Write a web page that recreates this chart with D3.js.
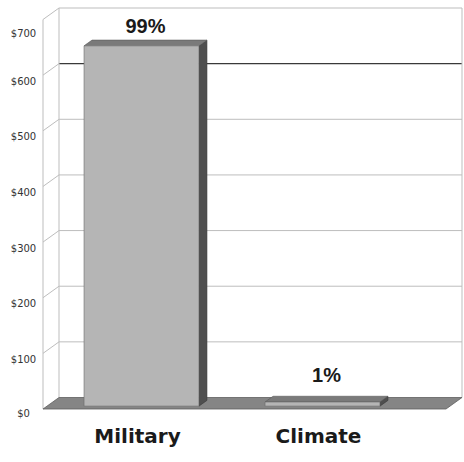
<!DOCTYPE html>
<html>
<head>
<meta charset="utf-8">
<script src="https://cdn.jsdelivr.net/npm/d3@7"></script>
<style>
  html, body { margin: 0; padding: 0; background: #fff; }
  svg { display: block; }
</style>
</head>
<body>
<svg id="chart" width="464" height="462"></svg>
<script>
// Spending by category, billions of dollars
const categories = ["Military", "Climate"];
const spending = [647.5, 7.4];
const yTicks = [0, 100, 200, 300, 400, 500, 600, 700];
const yTickLabels = ["$0", "$100", "$200", "$300", "$400", "$500", "$600", "$700"];
const emphasisTick = 600;

const svg = d3.select("#chart");

// 3-D box: front plane plus a depth offset for the back wall
const DX = 16, DY = 11.5;
const floorLeft = 43, floorRight = 446;
const barZ0 = 0.25, barZ1 = 0.75;

const y = d3.scaleLinear().domain([0, 700]).range([409, 19.5]);
const x = d3.scaleBand().domain(categories).range([47, 409])
  .paddingInner(0.365).paddingOuter(0.1825);

const P = (px, v, z) => [px + z * DX, y(v) - z * DY];
const poly = pts => pts.map(p => p.join(",")).join(" ");

// walls
svg.append("polygon")
  .attr("points", poly([P(floorRight, 0, 1), P(floorRight, 700, 1), P(floorLeft, 700, 1), P(floorLeft, 0, 1)]))
  .attr("fill", "#fff");
svg.append("polygon")
  .attr("points", poly([P(floorLeft, 0, 0), P(floorLeft, 700, 0), P(floorLeft, 700, 1), P(floorLeft, 0, 1)]))
  .attr("fill", "#fff");

// gridlines: back wall and side wall
const grid = svg.append("g");
yTicks.filter(t => t > 0).forEach(t => {
  const a = P(floorLeft, t, 0), b = P(floorLeft, t, 1), c = P(floorRight, t, 1);
  grid.append("line")
    .attr("x1", a[0]).attr("y1", a[1]).attr("x2", b[0]).attr("y2", b[1])
    .attr("stroke", "#bdbdbd").attr("stroke-width", 1);
  grid.append("line")
    .attr("x1", b[0]).attr("y1", b[1]).attr("x2", c[0]).attr("y2", c[1])
    .attr("stroke", t === emphasisTick ? "#3a3a3a" : "#bdbdbd")
    .attr("stroke-width", t === emphasisTick ? 1.3 : 1);
});

// wall edges
const edges = [
  [P(floorLeft, 0, 0), P(floorLeft, 700, 0)],
  [P(floorLeft, 0, 1), P(floorLeft, 700, 1)],
  [P(floorRight, 0, 1), P(floorRight, 700, 1)]
];
edges.forEach(([a, b]) => {
  grid.append("line")
    .attr("x1", a[0]).attr("y1", a[1]).attr("x2", b[0]).attr("y2", b[1])
    .attr("stroke", "#bdbdbd").attr("stroke-width", 1);
});

// floor
svg.append("polygon")
  .attr("points", poly([P(floorLeft, 0, 0), P(floorRight, 0, 0), P(floorRight, 0, 1), P(floorLeft, 0, 1)]))
  .attr("fill", "#858585").attr("stroke", "#5e5e5e").attr("stroke-width", 0.8)
  .attr("stroke-linejoin", "round");

// bars
const bars = svg.append("g");
categories.forEach((cat, i) => {
  const v = spending[i];
  const x0 = x(cat), x1 = x(cat) + x.bandwidth();
  const g = bars.append("g");
  // side
  g.append("polygon")
    .attr("points", poly([P(x1, 0, barZ0), P(x1, v, barZ0), P(x1, v, barZ1), P(x1, 0, barZ1)]))
    .attr("fill", "#4f4f4f").attr("stroke", "#3c3c3c").attr("stroke-width", 0.6);
  // top
  g.append("polygon")
    .attr("points", poly([P(x0, v, barZ0), P(x1, v, barZ0), P(x1, v, barZ1), P(x0, v, barZ1)]))
    .attr("fill", "#7a7a7a").attr("stroke", "#5a5a5a").attr("stroke-width", 0.6);
  // front
  g.append("polygon")
    .attr("points", poly([P(x0, 0, barZ0), P(x1, 0, barZ0), P(x1, v, barZ0), P(x0, v, barZ0)]))
    .attr("fill", "#b5b5b5").attr("stroke", "#6a6a6a").attr("stroke-width", 0.6);
});

// share labels above the bars, kept inside the box
const total = d3.sum(spending);
categories.forEach((cat, i) => {
  const v = spending[i];
  const top = P(x(cat) + x.bandwidth() / 2, v, barZ1);
  const ly = Math.max(top[1] - 14, y(700) + 13.5);
  svg.append("text")
    .attr("x", x(cat) + x.bandwidth() / 2 + DX * 0.5)
    .attr("y", ly)
    .attr("text-anchor", "middle")
    .attr("font-family", "Liberation Sans, Arial, sans-serif")
    .attr("font-weight", "bold")
    .attr("font-size", 20)
    .attr("fill", "#1a1a1a")
    .text(Math.round(v / total * 100) + "%");
});

// value axis labels
yTicks.forEach((t, i) => {
  const cy = Math.min(Math.max(y(t) + 6, y(700) + 14), y(0) + 4);
  svg.append("text")
    .attr("x", 23.5)
    .attr("y", cy)
    .attr("dy", "0.35em")
    .attr("text-anchor", "middle")
    .attr("font-family", "DejaVu Sans, sans-serif")
    .attr("font-size", 10)
    .attr("fill", "#333")
    .text(yTickLabels[i]);
});

// category labels
categories.forEach(cat => {
  svg.append("text")
    .attr("x", x(cat) + x.bandwidth() / 2)
    .attr("y", 443)
    .attr("text-anchor", "middle")
    .attr("font-family", "DejaVu Sans, sans-serif")
    .attr("font-weight", "bold")
    .attr("font-size", 20)
    .attr("fill", "#1a1a1a")
    .text(cat);
});
</script>
</body>
</html>
